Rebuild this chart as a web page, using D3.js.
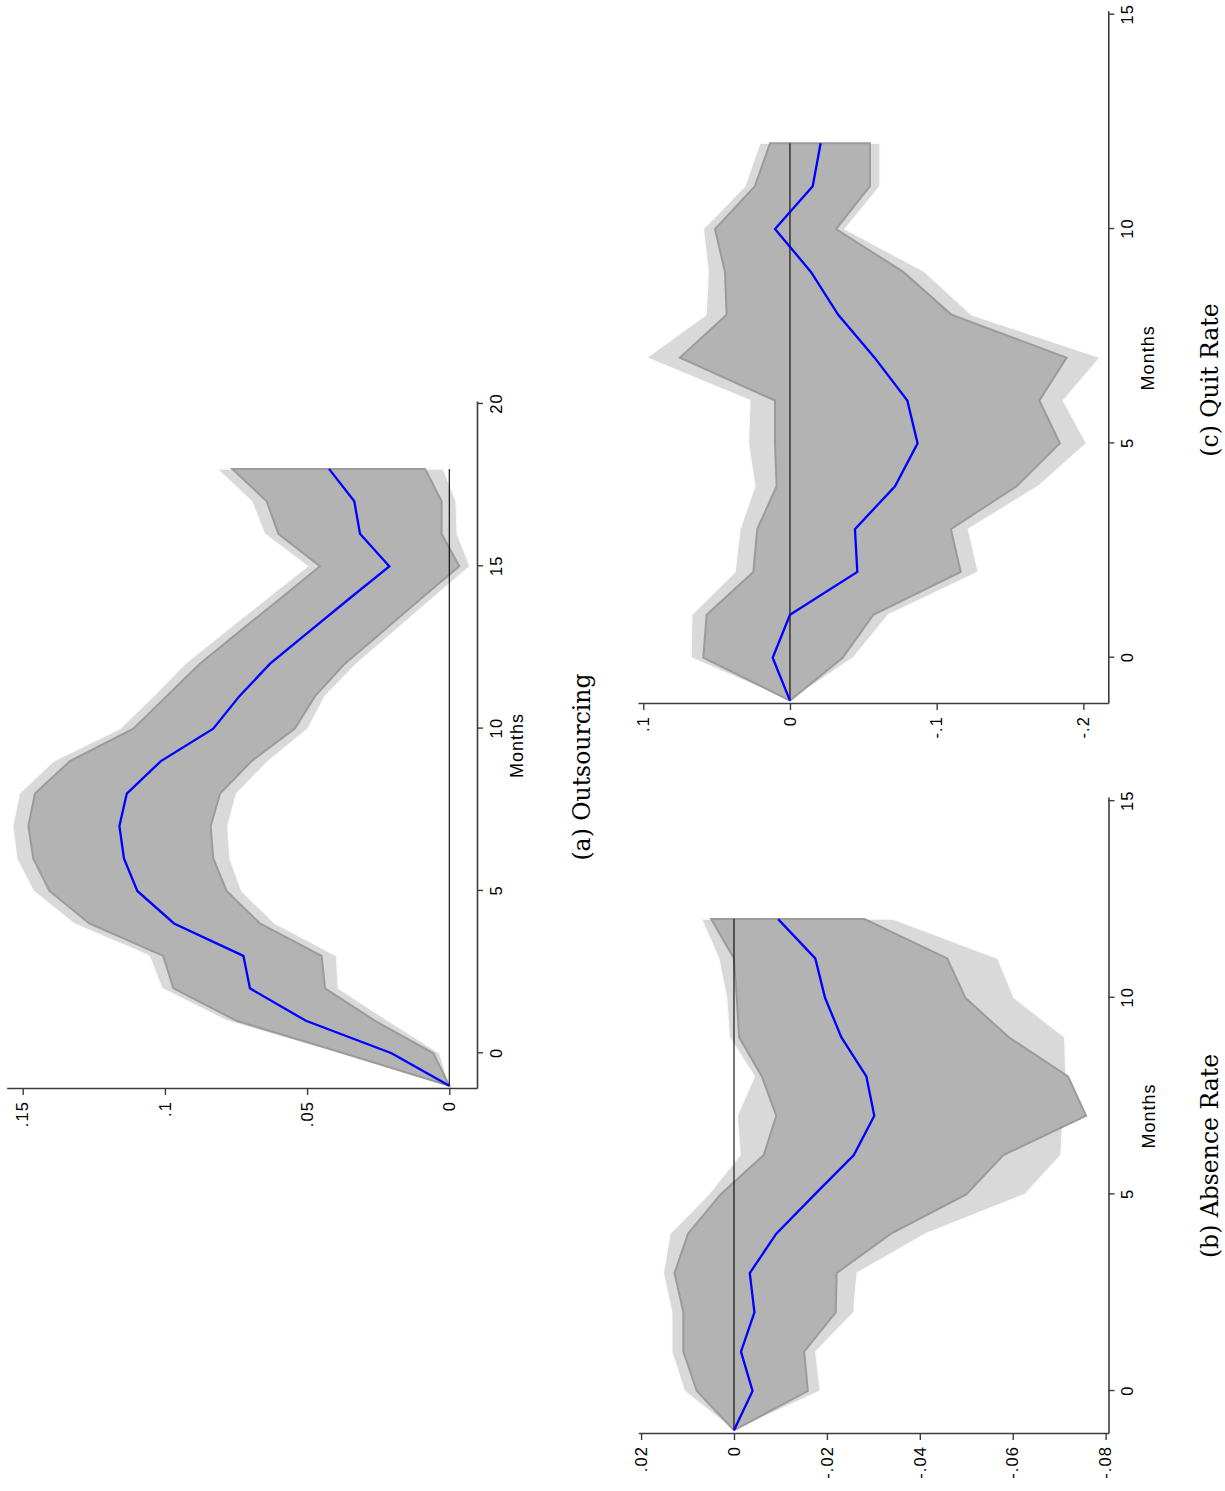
<!DOCTYPE html>
<html>
<head>
<meta charset="utf-8">
<script src="https://cdn.jsdelivr.net/npm/d3@7"></script>
<style>
  body { margin: 0; background: #fff; }
  svg { display: block; }
</style>
</head>
<body>
<div id="figure"></div>
<script>
// event time (months relative to the change)
const monthsA = [-1, 0, 1, 2, 3, 4, 5, 6, 7, 8, 9, 10, 11, 12, 13, 14, 15, 16, 17, 18];
const monthsBC = [-1, 0, 1, 2, 3, 4, 5, 6, 7, 8, 9, 10, 11, 12];

// (a) Outsourcing
const coefA = [0, .0203, .0504, .0701, .0724, .0968, .1097, .1144, .1160, .1134, .1014, .0830, .0738, .0630, .0491, .0352, .0211, .0314, .0334, .0423];
const hi90A = [0, .0371, .0748, .0970, .1006, .1266, .1406, .1463, .1480, .1457, .1334, .1111, .0994, .0877, .0737, .0595, .0455, .0601, .0642, .0763];
const lo90A = [0, .0056, .0261, .0437, .0449, .0666, .0783, .0830, .0839, .0806, .0695, .0543, .0472, .0367, .0233, .0100, -.0035, .0027, .0027, .0085];
const hi95A = [0, .0390, .0783, .1011, .1055, .1322, .1463, .1521, .1535, .1512, .1392, .1158, .1041, .0929, .0787, .0643, .0499, .0650, .0695, .0817];
const lo95A = [0, .0033, .0214, .0390, .0396, .0613, .0730, .0771, .0779, .0748, .0636, .0496, .0437, .0326, .0193, .0061, -.0073, -.0028, -.0024, .0021];

// (b) Absence Rate
const coefB = [0, -.0040, -.0015, -.0044, -.0034, -.0091, -.0174, -.0258, -.0302, -.0285, -.0231, -.0196, -.0175, -.0095];
const hi90B = [0, .0080, .0109, .0109, .0128, .0099, .0029, -.0064, -.0091, -.0060, -.0011, -.0006, .0000, .0049];
const lo90B = [0, -.0159, -.0151, -.0219, -.0221, -.0338, -.0500, -.0580, -.0758, -.0719, -.0591, -.0498, -.0459, -.0281];
const hi95B = [0, .0107, .0134, .0134, .0152, .0138, .0055, -.0013, -.0007, -.0044, .0010, .0016, .0033, .0070];
const lo95B = [0, -.0186, -.0176, -.0258, -.0265, -.0413, -.0626, -.0704, -.0708, -.0715, -.0712, -.0603, -.0568, -.0343];

// (c) Quit Rate
const coefC = [0, .0118, 0, -.0459, -.0443, -.0716, -.0870, -.0800, -.0577, -.0329, -.0143, .0102, -.0155, -.0209];
const hi90C = [0, .0591, .0568, .0250, .0223, .0091, .0102, .0102, .0750, .0432, .0443, .0511, .0239, .0136];
const lo90C = [0, -.0359, -.0568, -.1164, -.1097, -.1545, -.1840, -.1700, -.1886, -.1102, -.0772, -.0314, -.0545, -.0545];
const hi95C = [0, .0675, .0670, .0375, .0341, .0239, .0284, .0273, .0977, .0573, .0557, .0591, .0307, .0205];
const lo95C = [0, -.0432, -.0670, -.1284, -.1216, -.1693, -.2022, -.1863, -.2113, -.1239, -.0920, -.0375, -.0614, -.0614];

// tick labels
const monthTicksA = [0, 5, 10, 15, 20];
const monthTicksBC = [0, 5, 10, 15];
const valueTicksA = [0, .05, .1, .15];
const valueTicksB = [.02, 0, -.02, -.04, -.06, -.08];
const valueTicksC = [.1, 0, -.1, -.2];

const W = 1225, H = 1491;
const svg = d3.select("#figure").append("svg")
  .attr("width", W)
  .attr("height", H)
  .style("background", "#fff");

// the page is printed landscape: draw it upright and turn the whole thing
const page = svg.append("g").attr("transform", `translate(0,${H}) rotate(-90)`);

const stataFmt = d => d === 0 ? "0" : String(d).replace("0.", ".");

const panels = [
  {
    months: monthsA, coef: coefA, hi90: hi90A, lo90: lo90A, hi95: hi95A, lo95: lo95A,
    xDomain: [-1.1, 20.06], xRange: [402, 1089],
    yDomain: [-0.00974, 0.15563], yRange: [477, 6.7],
    xTicks: monthTicksA, yTicks: valueTicksA,
    caption: "(a) Outsourcing", captionAt: [724, 590]
  },
  {
    months: monthsBC, coef: coefB, hi90: hi90B, lo90: lo90B, hi95: hi95B, lo95: lo95B,
    xDomain: [-1.093, 15.08], xRange: [57, 693],
    yDomain: [-0.08062, 0.0206], yRange: [1108.5, 638.3],
    xTicks: monthTicksBC, yTicks: valueTicksB,
    caption: "(b) Absence Rate", captionAt: [335, 1218]
  },
  {
    months: monthsBC, coef: coefC, hi90: hi90C, lo90: lo90C, hi95: hi95C, lo95: lo95C,
    xDomain: [-1.08, 15.07], xRange: [787, 1479.3],
    yDomain: [-0.217, 0.1036], yRange: [1108.3, 638],
    xTicks: monthTicksBC, yTicks: valueTicksC,
    caption: "(c) Quit Rate", captionAt: [1111, 1218]
  }
];

panels.forEach(drawPanel);

function drawPanel(p) {
  const x = d3.scaleLinear().domain(p.xDomain).range(p.xRange);
  const y = d3.scaleLinear().domain(p.yDomain).range(p.yRange);
  const rows = p.months.map((m, i) => ({
    m: m, coef: p.coef[i],
    hi90: p.hi90[i], lo90: p.lo90[i],
    hi95: p.hi95[i], lo95: p.lo95[i]
  }));

  const g = page.append("g");
  const band = (lo, hi) => d3.area()
    .x(d => x(d.m))
    .y0(d => y(d[lo]))
    .y1(d => y(d[hi]));

  g.append("path")
    .datum(rows)
    .attr("d", band("lo95", "hi95"))
    .attr("fill", "#d9d9d9")
    .attr("stroke", "#fbfbfb")
    .attr("stroke-width", 1.5);

  g.append("path")
    .datum(rows)
    .attr("d", band("lo90", "hi90"))
    .attr("fill", "#b3b3b3")
    .attr("stroke", "#9b9b9b")
    .attr("stroke-width", 2);

  g.append("path")
    .datum(rows)
    .attr("d", d3.line().x(d => x(d.m)).y(() => y(0)))
    .attr("fill", "none")
    .attr("stroke", "#000")
    .attr("stroke-width", 1.1);

  g.append("path")
    .datum(rows)
    .attr("d", d3.line().x(d => x(d.m)).y(d => y(d.coef)))
    .attr("fill", "none")
    .attr("stroke", "#0000ff")
    .attr("stroke-width", 2.3);

  // axes
  const xAxis = g.append("g")
    .attr("transform", `translate(0,${p.yRange[0]})`)
    .call(d3.axisBottom(x).tickValues(p.xTicks).tickFormat(d3.format("d"))
      .tickSize(6).tickSizeOuter(0).tickPadding(7));

  const yAxis = g.append("g")
    .attr("transform", `translate(${p.xRange[0]},0)`)
    .call(d3.axisLeft(y).tickValues(p.yTicks).tickFormat(stataFmt)
      .tickSize(6).tickSizeOuter(0).tickPadding(6));

  [xAxis, yAxis].forEach(ax => {
    ax.select(".domain").attr("stroke", "#3c3c3c").attr("stroke-width", 1.6);
    ax.selectAll(".tick line").attr("stroke", "#3c3c3c").attr("stroke-width", 1.4);
    ax.selectAll(".tick text")
      .attr("fill", "#000")
      .style("font-family", "'Liberation Sans', Arial, sans-serif")
      .style("font-size", "16.5px")
      .style("letter-spacing", "1.1px");
  });

  g.append("text")
    .attr("x", (p.xRange[0] + p.xRange[1]) / 2)
    .attr("y", p.yRange[0] + 46)
    .attr("text-anchor", "middle")
    .style("font-family", "'Liberation Sans', Arial, sans-serif")
    .style("font-size", "18px")
    .style("letter-spacing", "1px")
    .text("Months");

  g.append("text")
    .attr("x", p.captionAt[0])
    .attr("y", p.captionAt[1])
    .attr("text-anchor", "middle")
    .style("font-family", "'DejaVu Serif', serif")
    .style("font-size", "23.5px")
    .text(p.caption);
}
</script>
</body>
</html>
